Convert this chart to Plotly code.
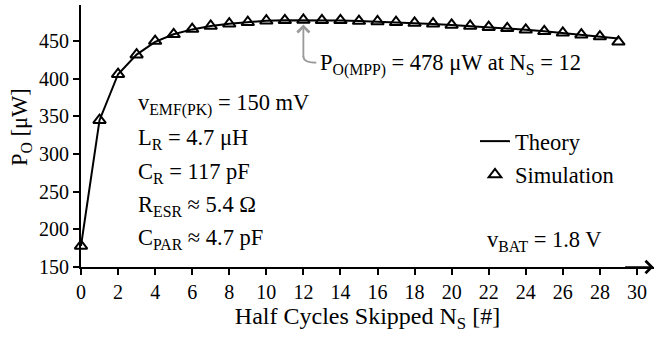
import plotly.graph_objects as go

# Half cycles skipped N_S
n_skipped = list(range(0, 30))
# Theory curve P_O [uW]
p_theory = [178, 345, 406, 432, 449, 459, 465.5, 470, 473, 475.5, 477, 477.8, 478,
            477.8, 477.4, 476.8, 476, 475, 474, 472.8, 471.5, 470, 468.5, 466.8,
            465, 463, 460.8, 458.5, 456, 453.5]
# Simulation points P_O [uW]
p_sim = [178, 345, 406, 432, 450, 459, 466, 470, 473, 475, 477, 477.5, 478,
         477.5, 477.5, 476.5, 476, 475, 474, 473, 471.5, 470, 468.5, 467,
         465, 463, 461, 458.5, 456, 449]

x_ticks = list(range(0, 31, 2))
y_ticks = [150, 200, 250, 300, 350, 400, 450]

FONT = "'Liberation Serif', 'Times New Roman', Times, serif"
TS = 22.5

fig = go.Figure()
fig.add_trace(go.Scatter(x=n_skipped, y=p_theory, mode="lines", name="Theory",
                         legendgroup="a",
                         line=dict(color="black", width=2), cliponaxis=False))
fig.add_trace(go.Scatter(x=n_skipped, y=p_sim, mode="markers", name="Simulation",
                         legendgroup="b",
                         marker=dict(symbol="triangle-up-open", size=11, color="black",
                                     line=dict(width=2, color="black")),
                         cliponaxis=False))

ann = []
params = [
    ("v<sub>EMF(PK)</sub> = 150 mV", 105),
    ("L<sub>R</sub> = 4.7 μH", 139),
    ("C<sub>R</sub> = 117 pF", 173),
    ("R<sub>ESR</sub> ≈ 5.4 Ω", 206),
    ("C<sub>PAR</sub> ≈ 4.7 pF", 239),
]
for txt, ypx in params:
    ann.append(dict(text=txt, xref="paper", yref="paper",
                    x=(136 - 81) / 573, y=1 - (ypx - 5) / 262,
                    xanchor="left", yanchor="middle", showarrow=False,
                    font=dict(family=FONT, size=TS, color="black")))
ann.append(dict(text="v<sub>BAT</sub> = 1.8 V", xref="paper", yref="paper",
                x=(485 - 81) / 573, y=1 - (241 - 5) / 262,
                xanchor="left", yanchor="middle", showarrow=False,
                font=dict(family=FONT, size=TS, color="black")))
ann.append(dict(text="P<sub>O(MPP)</sub> = 478 μW at N<sub>S</sub> = 12", xref="paper", yref="paper",
                x=(318 - 81) / 573, y=1 - (65 - 5) / 262,
                xanchor="left", yanchor="middle", showarrow=False,
                font=dict(family=FONT, size=TS, color="black")))
# y-axis title
ann.append(dict(text="P<sub>O</sub> [μW]", xref="paper", yref="paper",
                x=-(81 - 21) / 573, y=1 - (127 - 5) / 262, textangle=-90,
                xanchor="center", yanchor="middle", showarrow=False,
                font=dict(family=FONT, size=TS, color="black")))
# gray pointer arrow
ann.append(dict(text="", x=12, y=472, xref="x", yref="y", ax=0, ay=34,
                showarrow=True, arrowhead=4, arrowsize=1.3, arrowwidth=1.8,
                arrowcolor="#999999"))
# axis arrowheads
ann.append(dict(text="", x=0, y=498, xref="x", yref="y", ax=0, ay=30,
                showarrow=True, arrowhead=4, arrowsize=1.5, arrowwidth=1.6,
                arrowcolor="black"))
ann.append(dict(text="", x=30.9, y=150, xref="x", yref="y", ax=-30, ay=0,
                showarrow=True, arrowhead=4, arrowsize=1.5, arrowwidth=1.6,
                arrowcolor="black"))

shapes = [dict(type="path", xref="x", yref="y",
               path="M 12 430 Q 12 421.5 12.7 421.5",
               line=dict(color="#999999", width=1.8))]

fig.update_layout(
    width=655, height=337,
    margin=dict(l=81, r=1, t=5, b=70),
    plot_bgcolor="white", paper_bgcolor="white",
    font=dict(family=FONT, size=20, color="black"),
    showlegend=True,
    legend=dict(x=(475 - 81) / 573, y=1 - (120 - 5) / 262, xanchor="left", yanchor="top",
                bgcolor="rgba(0,0,0,0)", font=dict(family=FONT, size=TS),
                itemwidth=30, tracegroupgap=1),
    annotations=ann,
    shapes=shapes,
    xaxis=dict(range=[0, 30.92], tickvals=x_ticks, showgrid=False, zeroline=False,
               showline=True, linecolor="black", linewidth=2,
               ticks="outside", ticklen=6, tickwidth=1.5, tickcolor="black",
               tickfont=dict(family=FONT, size=20),
               title=dict(text="Half Cycles Skipped N<sub>S</sub> [#]", standoff=0,
                          font=dict(family=FONT, size=24))),
    yaxis=dict(range=[150, 497.9], tickvals=y_ticks, showgrid=False, zeroline=False,
               showline=True, linecolor="black", linewidth=2,
               ticks="outside", ticklen=6, tickwidth=1.5, tickcolor="black",
               tickfont=dict(family=FONT, size=20)),
)

fig.write_html("out.html", config={"displayModeBar": False},
               post_script="document.body.style.margin='0';")
